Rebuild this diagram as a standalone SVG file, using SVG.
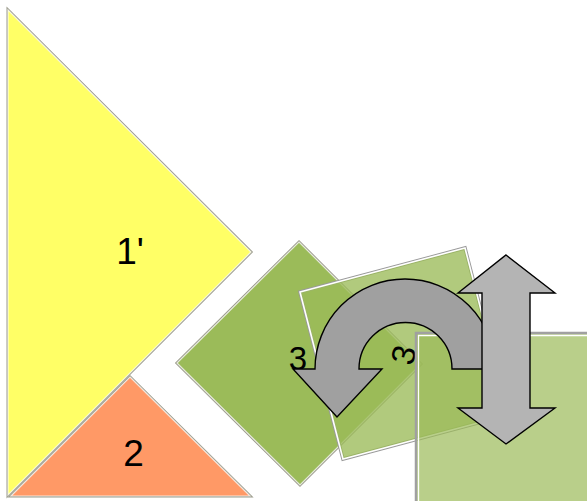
<svg xmlns="http://www.w3.org/2000/svg" width="587" height="501" viewBox="0 0 587 501">
<style>
.edge{fill:none;stroke:#9a9a8a;stroke-width:3;stroke-linejoin:miter}
.hl{stroke:#ffffff;stroke-opacity:0.75;stroke-width:1.2;stroke-linejoin:miter}
.lbl{font-family:"Liberation Sans",Arial,sans-serif;fill:#000000;text-anchor:middle}
.arrow{stroke:#000000;stroke-width:1.4;stroke-linejoin:miter}
</style>
<rect width="587" height="501" fill="#ffffff"/>
<g id="tri1">
  <polygon class="edge" points="8,10 251,252 8,495"/>
  <polygon class="hl" points="8,10 251,252 8,495" fill="#ffff66"/>
  <text class="lbl" x="130" y="264" font-size="37">1'</text>
</g>
<g id="tri2">
  <polygon class="edge" points="130,377 250,496 11,496"/>
  <polygon class="hl" points="130,377 250,496 11,496" fill="#ff9966"/>
  <text class="lbl" x="133.5" y="466" font-size="37">2</text>
</g>
<g id="diamond3">
  <polygon class="edge" points="299,242 421,364 300,485 177,363" stroke="#8f9f80"/>
  <polygon class="hl" points="299,242 421,364 300,485 177,363" fill="#9bbb59"/>
  <text class="lbl" x="298" y="370" font-size="33">3</text>
</g>
<g id="square3b">
  <polygon points="300,292 465,248 508,415 343,459" fill="none" stroke="#9a9a9a" stroke-width="3.5"/>
  <polygon points="300,292 465,248 508,415 343,459" fill="#9bbb59" fill-opacity="0.78" stroke="#ffffff" stroke-width="1.6"/>
  <text class="lbl" font-size="33" transform="translate(404,355) rotate(-75)" y="11">3</text>
</g>
<g id="square3c">
  <rect x="416" y="333" width="200" height="200" fill="#9bbb59" fill-opacity="0.7" stroke="#a0a0a0" stroke-width="2.5"/>
  <path d="M418.5,520 V335.5 H600" fill="none" stroke="#ffffff" stroke-width="1.3"/>
</g>
<g id="connectors">
  <path id="uturn" class="arrow" fill="#a0a0a0" d="M315,369 A90,90 0 1 1 495,369 L452,369 A46.5,46.5 0 0 0 359,369 L382,369 L337,417 L293,369 Z"/>
  <path id="updown" class="arrow" fill="#b4b4b4" d="M506,255 L555,293 L530,293 L530,408 L555,408 L506,444 L458,408 L482,408 L482,293 L458,293 Z"/>
</g>
</svg>
